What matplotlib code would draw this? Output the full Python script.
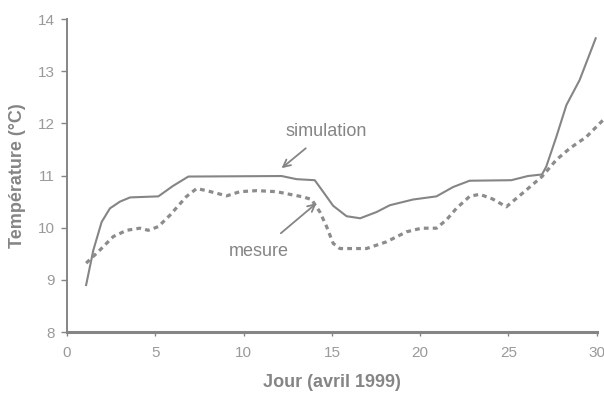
import matplotlib
matplotlib.use("Agg")
import matplotlib.pyplot as plt

# simulated temperature (solid line)
sim_days = [1.08, 1.49, 1.96, 2.43, 3.0, 3.57, 5.17, 6.0, 6.87, 12.15, 13.0, 14.03, 14.5,
            15.07, 15.83, 16.6, 17.53, 18.28, 19.6, 20.92, 21.87, 22.8, 25.16, 26.1,
            26.9, 27.14, 27.71, 28.28, 29.03, 29.94]
sim_temp = [8.9, 9.57, 10.11, 10.37, 10.5, 10.58, 10.6, 10.8, 10.98, 10.99, 10.93, 10.91,
            10.69, 10.42, 10.22, 10.18, 10.3, 10.43, 10.54, 10.6, 10.78, 10.9, 10.91,
            10.99, 11.02, 11.17, 11.74, 12.35, 12.83, 13.63]

# measured temperature (dotted line)
mes_days = [1.08, 1.77, 2.62, 3.38, 4.13, 4.6, 5.17, 5.83, 6.77, 7.34, 7.9, 9.04, 9.79,
            10.74, 11.87, 12.6, 13.37, 13.85, 14.32, 14.7, 15.07, 15.45, 16.96, 18.1,
            19.22, 20.07, 20.92, 21.49, 22.05, 22.8, 23.37, 24.1, 24.88, 25.83, 26.9,
            27.71, 28.47, 29.41, 30.35]
mes_temp = [9.32, 9.54, 9.83, 9.95, 9.99, 9.95, 10.02, 10.24, 10.6, 10.75, 10.71, 10.61,
            10.69, 10.71, 10.69, 10.64, 10.59, 10.54, 10.3, 10.02, 9.7, 9.6, 9.6, 9.73,
            9.92, 9.99, 9.99, 10.15, 10.37, 10.6, 10.64, 10.55, 10.4, 10.67, 10.98,
            11.3, 11.52, 11.74, 12.06]

x_ticks = [0, 5, 10, 15, 20, 25, 30]
y_ticks = [8, 9, 10, 11, 12, 13, 14]

grey = "#858585"
light = "#9a9a9a"
plt.rcParams["font.family"] = ["Liberation Sans", "DejaVu Sans"]

fig = plt.figure(figsize=(6.04, 3.96), dpi=100)
ax = fig.add_axes([0.111, 0.1616, 0.877, 0.7904])

ax.plot(sim_days, sim_temp, color=grey, lw=1.5, solid_joinstyle="round")
ax.plot(mes_days, mes_temp, color="#8c8c8c", lw=2.3, dashes=(1.5, 1.3), clip_on=False)

ax.set_xlim(0, 30)
ax.set_ylim(8, 14)
ax.set_xticks(x_ticks)
ax.set_yticks(y_ticks)

for s in ["top", "right"]:
    ax.spines[s].set_visible(False)
ax.spines["left"].set_color(grey)
ax.spines["left"].set_linewidth(1.4)
ax.spines["bottom"].set_color(grey)
ax.spines["bottom"].set_linewidth(2.2)
ax.tick_params(colors=grey, labelcolor=light, labelsize=11, length=4, width=1)
ax.tick_params(axis="y", pad=5)
ax.tick_params(axis="x", length=3, pad=7)

ax.set_xlabel("Jour (avril 1999)", fontsize=13, fontweight="bold", color=grey, labelpad=10)
ax.set_ylabel("Température (°C)", fontsize=13, fontweight="bold", color=grey, labelpad=8)

ax.annotate("simulation", xy=(12.15, 11.14), xytext=(14.66, 11.84),
            fontsize=13, color=grey, ha="center", va="center",
            arrowprops=dict(arrowstyle="->", color=grey, lw=1.3, shrinkA=6, shrinkB=0))
ax.annotate("mesure", xy=(14.13, 10.47), xytext=(10.87, 9.54),
            fontsize=13, color=grey, ha="center", va="center",
            arrowprops=dict(arrowstyle="->", color=grey, lw=1.3, shrinkA=8, shrinkB=0))

fig.savefig("out.png", dpi=100)
